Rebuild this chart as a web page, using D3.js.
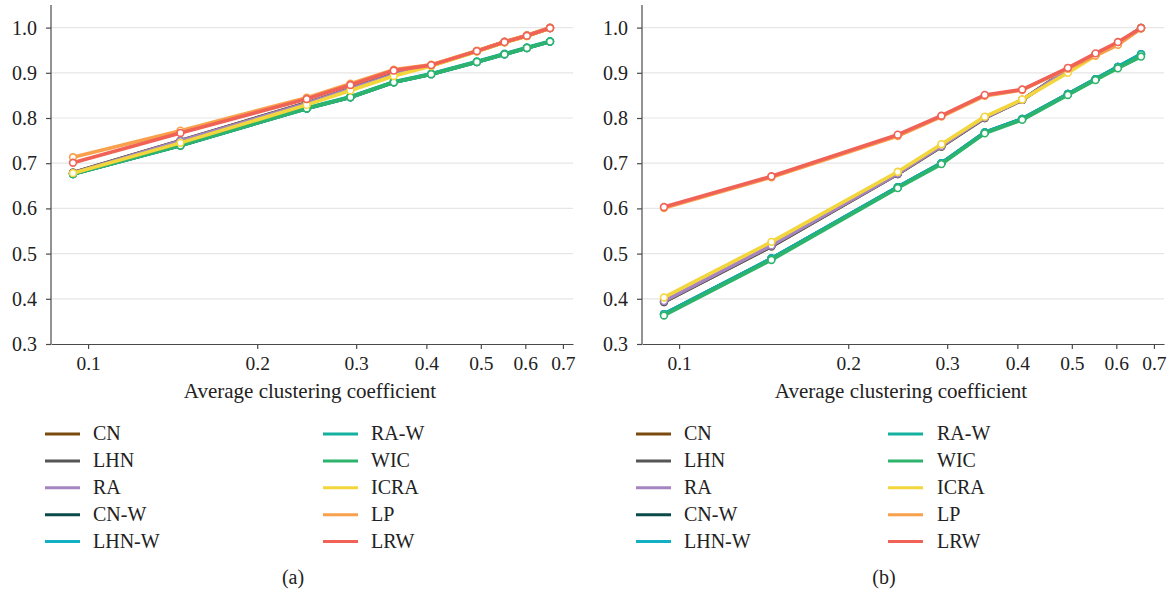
<!DOCTYPE html>
<html>
<head>
<meta charset="utf-8">
<script src="https://cdn.jsdelivr.net/npm/d3@7"></script>
<style>
  html, body { margin: 0; padding: 0; background: #fff; }
  svg { display: block; }
  text { font-family: "Liberation Serif", "DejaVu Serif", serif; fill: #222; }
</style>
</head>
<body>
<svg id="chart" width="1167" height="590"></svg>
<script>
// Average clustering coefficient of each network (shared by both panels)
const clustering = [0.094, 0.146, 0.245, 0.293, 0.350, 0.408, 0.492, 0.551, 0.604, 0.664];

const methods = ["CN", "LHN", "RA", "CN-W", "LHN-W", "RA-W", "WIC", "ICRA", "LP", "LRW"];
const methodColors = ["#7a4a0e", "#555555", "#a585c1", "#0b4a4a", "#12b0c2", "#14b0a0", "#2db36b", "#f3d63c", "#f9a04c", "#ef6255"];

const xTicks = [0.1, 0.2, 0.3, 0.4, 0.5, 0.6, 0.7];
const yTicks = [0.3, 0.4, 0.5, 0.6, 0.7, 0.8, 0.9, 1.0];

// Panel (a) accuracy per method
const aCN    = [0.679, 0.750, 0.833, 0.865, 0.897, 0.916, 0.948, 0.968, 0.982, 0.999];
const aLHN   = [0.679, 0.750, 0.833, 0.865, 0.897, 0.916, 0.948, 0.968, 0.982, 0.999];
const aRA    = [0.678, 0.749, 0.832, 0.864, 0.896, 0.916, 0.948, 0.968, 0.982, 0.999];
const aCNW   = [0.676, 0.739, 0.821, 0.846, 0.879, 0.897, 0.924, 0.941, 0.955, 0.969];
const aLHNW  = [0.676, 0.739, 0.821, 0.846, 0.879, 0.897, 0.924, 0.941, 0.955, 0.969];
const aRAW   = [0.676, 0.740, 0.822, 0.847, 0.880, 0.898, 0.925, 0.942, 0.956, 0.970];
const aWIC   = [0.676, 0.739, 0.821, 0.846, 0.879, 0.897, 0.924, 0.941, 0.955, 0.969];
const aICRA  = [0.678, 0.745, 0.829, 0.861, 0.893, 0.915, 0.947, 0.967, 0.981, 0.999];
const aLP    = [0.713, 0.772, 0.845, 0.876, 0.907, 0.918, 0.949, 0.969, 0.983, 1.000];
const aLRW   = [0.701, 0.767, 0.842, 0.873, 0.905, 0.917, 0.948, 0.968, 0.982, 0.999];

// Panel (b) accuracy per method
const bCN    = [0.393, 0.516, 0.676, 0.737, 0.800, 0.840, 0.908, 0.940, 0.965, 0.999];
const bLHN   = [0.393, 0.516, 0.676, 0.737, 0.800, 0.840, 0.908, 0.940, 0.965, 0.999];
const bRA    = [0.395, 0.518, 0.677, 0.738, 0.801, 0.840, 0.907, 0.940, 0.965, 0.999];
const bCNW   = [0.366, 0.489, 0.647, 0.700, 0.768, 0.798, 0.853, 0.886, 0.913, 0.941];
const bLHNW  = [0.366, 0.489, 0.647, 0.700, 0.768, 0.798, 0.853, 0.886, 0.913, 0.941];
const bRAW   = [0.366, 0.489, 0.647, 0.700, 0.768, 0.798, 0.853, 0.886, 0.913, 0.941];
const bWIC   = [0.363, 0.486, 0.645, 0.698, 0.766, 0.796, 0.851, 0.884, 0.910, 0.936];
const bICRA  = [0.403, 0.526, 0.681, 0.742, 0.803, 0.841, 0.900, 0.938, 0.963, 0.999];
const bLP    = [0.601, 0.669, 0.760, 0.803, 0.849, 0.862, 0.909, 0.938, 0.962, 0.998];
const bLRW   = [0.603, 0.671, 0.763, 0.805, 0.851, 0.863, 0.911, 0.943, 0.968, 0.999];

const panels = [
  { label: "(a)", left: 51, labelX: 293,
    legendCols: [[45, 93], [323, 371]],
    series: [aCN, aLHN, aRA, aCNW, aLHNW, aRAW, aWIC, aICRA, aLP, aLRW] },
  { label: "(b)", left: 642, labelX: 884,
    legendCols: [[636, 684], [888, 937]],
    series: [bCN, bLHN, bRA, bCNW, bLHNW, bRAW, bWIC, bICRA, bLP, bLRW] }
];

const svg = d3.select("#chart");
const plotW = 522, plotTop = 5, plotBottom = 344;
const axisColor = "#4a4a4a";
const serif = '"Liberation Serif", "DejaVu Serif", serif';

panels.forEach(p => {
  const x = d3.scaleLog().domain([0.0859, 0.7295]).range([p.left, p.left + plotW]);
  const y = d3.scaleLinear().domain([0.3, 1.05]).range([plotBottom, plotTop]);
  const g = svg.append("g");

  // horizontal grid
  g.append("g").selectAll("line").data(yTicks.slice(1)).join("line")
    .attr("x1", p.left).attr("x2", p.left + plotW)
    .attr("y1", d => y(d)).attr("y2", d => y(d))
    .attr("stroke", "#e6e6e6").attr("stroke-width", 1.2);

  // y axis
  const yAxis = g.append("g").attr("transform", `translate(${p.left},0)`)
    .call(d3.axisLeft(y).tickValues(yTicks).tickFormat(d3.format(".1f")).tickSize(5).tickPadding(9).tickSizeOuter(0))
    .attr("font-family", serif).attr("font-size", 20);
  yAxis.select(".domain").remove();
  yAxis.append("line").attr("x1", 0).attr("x2", 0).attr("y1", plotTop).attr("y2", plotBottom)
    .attr("stroke", axisColor).attr("stroke-width", 1.2);
  yAxis.selectAll(".tick line").attr("stroke", axisColor).attr("stroke-width", 1.2);
  yAxis.selectAll("text").style("font-family", serif).style("font-size", "20px").attr("fill", "#222");

  // x axis
  const xAxis = g.append("g").attr("transform", `translate(0,${plotBottom})`)
    .call(d3.axisBottom(x).tickValues(xTicks).tickFormat(d3.format(".1f")).tickSize(5).tickPadding(7).tickSizeOuter(0))
    .attr("font-family", serif).attr("font-size", 19.5);
  xAxis.select(".domain").attr("stroke", axisColor).attr("stroke-width", 1.2);
  xAxis.selectAll(".tick line").attr("stroke", axisColor).attr("stroke-width", 1.2);
  xAxis.selectAll("text").style("font-family", serif).style("font-size", "19.5px").attr("fill", "#222");

  g.append("text")
    .attr("x", p.left + plotW / 2 - 2).attr("y", 398)
    .attr("text-anchor", "middle").style("font-size", "21px")
    .text("Average clustering coefficient");

  // method curves with hollow markers
  const line = d3.line().x((d, i) => x(clustering[i])).y(d => y(d));
  p.series.forEach((vals, k) => {
    const s = g.append("g");
    s.append("path").datum(vals).attr("d", line)
      .attr("fill", "none").attr("stroke", methodColors[k]).attr("stroke-width", 3.6)
      .attr("stroke-linejoin", "round").attr("stroke-linecap", "round");
    s.selectAll("circle").data(vals).join("circle")
      .attr("cx", (d, i) => x(clustering[i])).attr("cy", d => y(d)).attr("r", 3.4)
      .attr("fill", "#fff").attr("stroke", methodColors[k]).attr("stroke-width", 1.6);
  });

  // legend, two columns of five
  methods.forEach((m, k) => {
    const col = p.legendCols[Math.floor(k / 5)];
    const yy = 434 + (k % 5) * 26.9;
    g.append("line").attr("x1", col[0]).attr("x2", col[0] + 35).attr("y1", yy).attr("y2", yy)
      .attr("stroke", methodColors[k]).attr("stroke-width", 3);
    g.append("text").attr("x", col[1]).attr("y", yy + 6).style("font-size", "20px").text(m);
  });

  g.append("text").attr("x", p.labelX).attr("y", 584).attr("text-anchor", "middle")
    .style("font-size", "20px").text(p.label);
});
</script>
</body>
</html>
